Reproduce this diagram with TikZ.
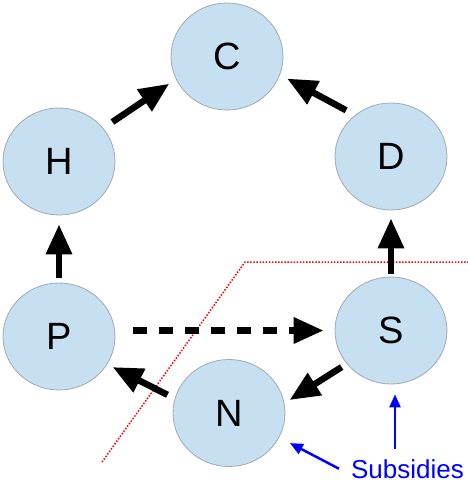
\documentclass[tikz,border=0pt]{standalone}
\usepackage{fontspec}
\setmainfont{Liberation Sans}
\usetikzlibrary{shapes.geometric,arrows.meta}
\definecolor{bubble}{HTML}{C6E0F2}
\definecolor{rim}{HTML}{A0A8B0}
\tikzset{
  bub/.style={ellipse, draw=rim, line width=0.8pt, fill=bubble, minimum width=112pt, minimum height=107pt, inner sep=0pt, font=\fontsize{38}{38}\selectfont},
  bigarrow/.style={line width=6.5pt, -{Triangle[length=30pt,width=25pt]}, black},
  bluearrow/.style={line width=2.5pt, -{Triangle[length=13pt,width=11pt]}, blue},
}
\begin{document}
\begin{tikzpicture}[x=1pt,y=-1pt]
\useasboundingbox (0,0) rectangle (468,482);
\node[bub] (C) at (227,56.5) {C};
\node[bub] (H) at (59,161.5) {H};
\node[bub] (D) at (391,156.5) {D};
\node[bub] (P) at (59,336.5) {P};
\node[bub] (S) at (391,330.5) {S};
\node[bub] (N) at (229,413) {N};
% separator
\draw[red, line width=1.5pt, dash pattern=on 1.5pt off 1.6pt] (102,462) -- (245,262) -- (468,262);
% arrows
\draw[bigarrow, shorten <=11pt, shorten >=8pt] (H.37) -- (C.204);
\draw[bigarrow, shorten <=10pt, shorten >=8pt] (D.131) -- (C.341);
\draw[bigarrow, shorten <=5pt, shorten >=9pt] (P.90) -- (H.270);
\draw[bigarrow, shorten <=3pt, shorten >=8pt] (S.90) -- (D.270);
\draw[bigarrow, dash pattern=on 14pt off 12pt, shorten <=18pt, shorten >=11pt] (P.east |- S) -- (S.west);
\draw[bigarrow, shorten <=6pt, shorten >=6pt] (S.217) -- (N.10);
\draw[bigarrow, shorten <=8pt, shorten >=6pt] (N.165) -- (P.330);
% subsidies
\node[text=blue, anchor=base, inner sep=0pt, font=\fontsize{26}{26}\selectfont] (sub) at (407.5,478) {Subsidies};
\draw[bluearrow, shorten >=10pt] ([shift={(-12.5pt,10pt)}]sub.north) -- ([xshift=-12.5pt]sub.north |- S.south);
\draw[bluearrow, shorten >=12pt] ([xshift=-12pt]sub.west) -- (N.334);
\end{tikzpicture}
\end{document}
